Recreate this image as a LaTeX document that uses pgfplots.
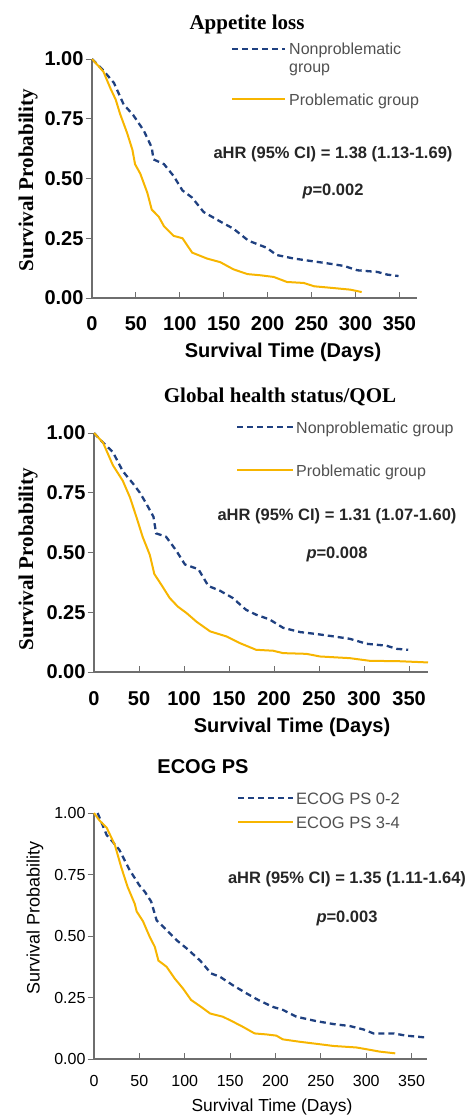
\documentclass[border=0pt]{standalone}
\usepackage{fontspec}
\setmainfont{Liberation Sans}
\newfontfamily\serif{Liberation Serif}
\usepackage{pgfplots}
\pgfplotsset{compat=1.18}
\usepackage{pgfplotstable}

\definecolor{kmblue}{RGB}{31,64,128}
\definecolor{kmgold}{RGB}{247,181,0}
\definecolor{axgray}{RGB}{110,110,110}
\definecolor{leggray}{RGB}{80,80,80}

% Appetite loss
\pgfplotstableread{
d s
0 1
11 0.96
25 0.90
36 0.81
47 0.765
59 0.70
68 0.63
70 0.58
82 0.56
93 0.51
103 0.45
114 0.42
127 0.36
146 0.32
161 0.29
178 0.24
199 0.21
210 0.18
230 0.165
249 0.155
268 0.145
287 0.134
302 0.116
325 0.109
336 0.098
349 0.092
}\aBlue
\pgfplotstableread{
d s
0 1
8 0.968
13 0.947
21 0.877
27 0.83
32 0.77
40 0.69
46 0.62
49 0.56
55 0.52
63 0.44
68 0.37
76 0.34
82 0.30
93 0.26
103 0.25
114 0.19
131 0.165
146 0.15
161 0.12
177 0.10
192 0.095
207 0.088
222 0.067
241 0.063
253 0.049
271 0.043
294 0.035
307 0.025
}\aGold

% Global health status/QOL
\pgfplotstableread{
d s
0 1
10 0.96
21 0.92
32 0.84
43 0.79
51 0.75
58 0.705
66 0.65
69 0.58
80 0.566
91 0.51
101 0.45
116 0.43
127 0.36
140 0.34
154 0.31
169 0.26
180 0.24
195 0.22
210 0.185
229 0.167
247 0.159
266 0.149
284 0.139
303 0.118
325 0.11
336 0.097
349 0.093
}\bBlue
\pgfplotstableread{
d s
0 1
10 0.96
21 0.865
32 0.80
40 0.73
47 0.65
54 0.566
62 0.49
67 0.41
75 0.364
84 0.31
93 0.274
103 0.246
114 0.21
129 0.17
147 0.149
162 0.121
180 0.093
199 0.089
210 0.079
236 0.076
251 0.065
284 0.058
306 0.047
340 0.045
371 0.04
}\bGold

% ECOG PS
\pgfplotstableread{
d s
4 1
14 0.91
19 0.89
28 0.85
39 0.77
50 0.706
56 0.68
63 0.64
69 0.564
80 0.524
91 0.483
102 0.45
117 0.40
129 0.348
139 0.334
153 0.30
168 0.267
181 0.24
197 0.212
208 0.20
223 0.172
245 0.154
264 0.142
282 0.134
297 0.12
308 0.104
330 0.104
344 0.095
367 0.087
}\cBlue
\pgfplotstableread{
d s
0 1
6 0.97
14 0.94
23 0.87
30 0.78
37 0.70
45 0.63
47 0.60
54 0.56
61 0.50
67 0.456
71 0.40
80 0.375
89 0.327
98 0.287
107 0.24
118 0.212
128 0.185
142 0.172
153 0.152
164 0.131
177 0.104
190 0.10
201 0.095
208 0.08
227 0.07
249 0.06
264 0.053
289 0.047
300 0.04
315 0.03
332 0.023
}\cGold

\tikzset{
  nonp/.style={kmblue, line width=2.3pt, dash pattern=on 6pt off 4pt},
  prob/.style={kmgold, line width=2pt},
}
\pgfplotsset{
  km/.style={
    scale only axis, anchor=south west,
    xmin=0, ymin=0, ymax=1,
    axis x line*=bottom, axis y line*=left,
    axis line style={draw=axgray, line width=1.3pt, -},
    tick align=inside, major tick length=6.5pt,
    tick style={draw=axgray, line width=1pt},
    y tick style={xshift=-6.5pt},
    xtick={0,50,...,350}, ytick={0,0.25,0.5,0.75,1},
    y tick label style={xshift=-5pt, /pgf/number format/fixed, /pgf/number format/fixed zerofill, /pgf/number format/precision=2},
    /pgf/number format/assume math mode=true,
    clip=false,
  },
}

\newcommand\fs[1]{\fontsize{#1}{#1}\selectfont}

\begin{document}
\begin{tikzpicture}
\path[use as bounding box] (0,0) rectangle (471pt,-1116pt);

% ---- panel 1
\begin{axis}[km, at={(92pt,-298pt)}, width=325pt, height=239pt, xmax=370,
  tick label style={font=\bfseries\fs{20}}, x tick label style={yshift=-15pt}]
\addplot[nonp] table[x=d, y=s] {\aBlue};
\addplot[prob] table[x=d, y=s] {\aGold};
\end{axis}
\node[font=\serif\bfseries\fs{21}, anchor=base] at (247pt,-30pt) {Appetite loss};
\node[font=\serif\bfseries\fs{21}, rotate=90] at (28pt,-180pt) {Survival Probability};
\node[font=\bfseries\fs{20}, anchor=base] at (283pt,-357pt) {Survival Time (Days)};
\draw[nonp] (232pt,-49pt) -- (285pt,-49pt);
\node[font=\fs{16}, text=leggray, anchor=base west, inner sep=0pt] at (289pt,-55pt) {Nonproblematic};
\node[font=\fs{16}, text=leggray, anchor=base west, inner sep=0pt] at (289pt,-73pt) {group};
\draw[prob] (232pt,-99pt) -- (285pt,-99pt);
\node[font=\fs{16}, text=leggray, anchor=base west, inner sep=0pt] at (289pt,-105pt) {Problematic group};
\node[font=\bfseries\fs{16.5}, text=black!85, anchor=base] at (333pt,-158pt) {aHR (95\% CI) = 1.38 (1.13-1.69)};
\node[font=\bfseries\fs{16.5}, text=black!85, anchor=base] at (333pt,-195pt) {\textit{p}=0.002};

% ---- panel 2
\begin{axis}[km, at={(94pt,-672pt)}, width=334pt, height=239pt, xmax=371,
  tick label style={font=\bfseries\fs{20}}, x tick label style={yshift=-16pt}]
\addplot[nonp] table[x=d, y=s] {\bBlue};
\addplot[prob] table[x=d, y=s] {\bGold};
\end{axis}
\node[font=\serif\bfseries\fs{21}, anchor=base] at (280pt,-402pt) {Global health status/QOL};
\node[font=\serif\bfseries\fs{21}, rotate=90] at (28pt,-559pt) {Survival Probability};
\node[font=\bfseries\fs{20}, anchor=base] at (292pt,-732pt) {Survival Time (Days)};
\draw[nonp] (237pt,-427pt) -- (293pt,-427pt);
\node[font=\fs{16}, text=leggray, anchor=base west, inner sep=0pt] at (296pt,-433pt) {Nonproblematic group};
\draw[prob] (237pt,-470pt) -- (293pt,-470pt);
\node[font=\fs{16}, text=leggray, anchor=base west, inner sep=0pt] at (296pt,-476pt) {Problematic group};
\node[font=\bfseries\fs{16.5}, text=black!85, anchor=base] at (337pt,-520pt) {aHR (95\% CI) = 1.31 (1.07-1.60)};
\node[font=\bfseries\fs{16.5}, text=black!85, anchor=base] at (337pt,-558pt) {\textit{p}=0.008};

% ---- panel 3
\begin{axis}[km, at={(94pt,-1059pt)}, width=333pt, height=246pt, xmax=367,
  tick label style={font=\fs{16}}, x tick label style={yshift=-13pt}]
\addplot[nonp] table[x=d, y=s] {\cBlue};
\addplot[prob] table[x=d, y=s] {\cGold};
\end{axis}
\node[font=\bfseries\fs{20}, anchor=base] at (203pt,-773pt) {ECOG PS};
\node[font=\fs{18}, rotate=90] at (35pt,-918pt) {Survival Probability};
\node[font=\fs{17.4}, anchor=base] at (272pt,-1111pt) {Survival Time (Days)};
\draw[nonp] (238pt,-798pt) -- (293pt,-798pt);
\node[font=\fs{16.5}, text=leggray, anchor=base west, inner sep=0pt] at (296pt,-804pt) {ECOG PS 0-2};
\draw[prob] (238pt,-822pt) -- (293pt,-822pt);
\node[font=\fs{16.5}, text=leggray, anchor=base west, inner sep=0pt] at (296pt,-828pt) {ECOG PS 3-4};
\node[font=\bfseries\fs{16.5}, text=black!85, anchor=base] at (347pt,-883pt) {aHR (95\% CI) = 1.35 (1.11-1.64)};
\node[font=\bfseries\fs{16.5}, text=black!85, anchor=base] at (347pt,-922pt) {\textit{p}=0.003};
\end{tikzpicture}
\end{document}
